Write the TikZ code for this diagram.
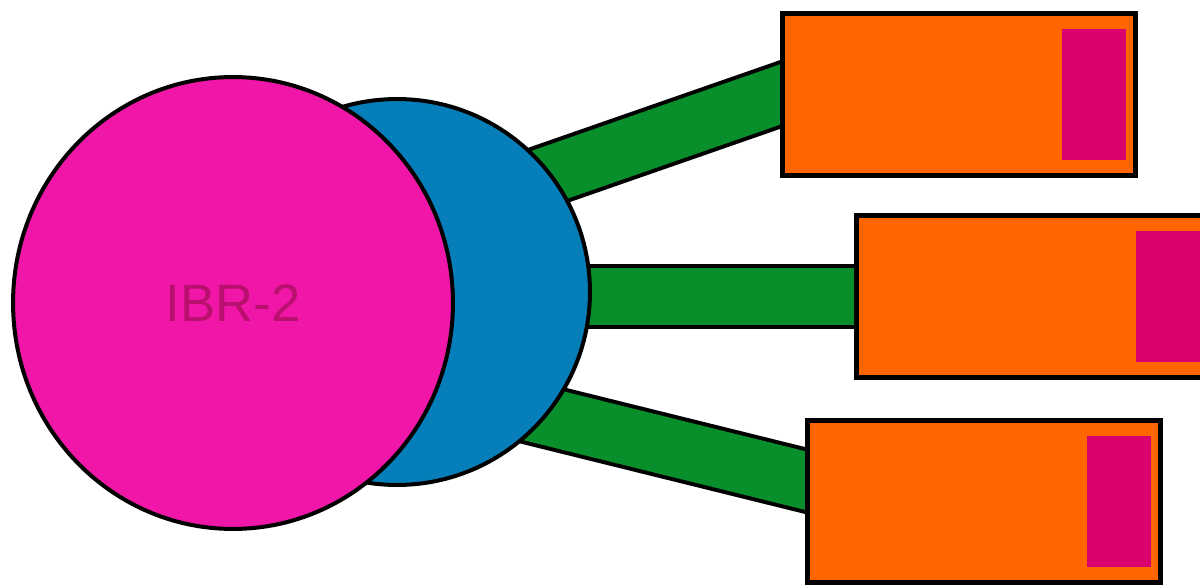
\documentclass[tikz,border=0pt]{standalone}
\usepackage{fontspec}
\setmainfont{Liberation Sans}
\usetikzlibrary{shapes.geometric, positioning, backgrounds}
\definecolor{corepink}{RGB}{240,22,168}
\definecolor{labelpink}{RGB}{185,16,110}
\definecolor{modblue}{RGB}{6,126,186}
\definecolor{beamgreen}{RGB}{8,142,42}
\definecolor{boxorange}{RGB}{255,102,0}
\definecolor{slotred}{RGB}{218,0,110}
\tikzstyle{core} = [ellipse, minimum width=8.8cm, minimum height=9.04cm, draw=black, line width=0.08cm, fill=corepink, text=labelpink, font=\fontsize{30}{32}\selectfont]
\tikzstyle{moderator} = [circle, minimum size=7.72cm, draw=black, line width=0.08cm, fill=modblue]
\tikzstyle{station} = [rectangle, minimum width=7.06cm, minimum height=3.24cm, draw=black, line width=0.1cm, fill=boxorange]
\tikzstyle{detector} = [rectangle, minimum width=1.28cm, minimum height=2.64cm, inner sep=0pt, fill=slotred]
\tikzstyle{beam} = [line width=0.08cm, draw=black, double=beamgreen, double distance=1.14cm, shorten >=-0.6cm]

\begin{document}
\begin{tikzpicture}[x=0.02cm, y=-0.02cm]
    \useasboundingbox (0,0) rectangle (1200,588);
    \clip (0,0) rectangle (1200,588);
    % Nodes
    \node (mod) [moderator] at (397,292) {};
    \node (core) [core] at (233,303) {IBR-2};
    \node (st1) [station] at (959,94.5) {};
    \node (st2) [station] at (1033,296.5) {};
    \node (st3) [station] at (984,501.5) {};
    \node (det1) [detector, left=0.24cm of st1.east] {};
    \node (det2) [detector, left=0.24cm of st2.east] {};
    \node (det3) [detector, left=0.24cm of st3.east] {};
    \coordinate (b1) at (500,192);
    \coordinate (b2) at (500,296.5);
    \coordinate (b3) at (500,405);

    % Beams
    \begin{scope}[on background layer]
    \draw [beam] (b1) -- (st1.west);
    \draw [beam] (b2) -- (st2.west);
    \draw [beam] (b3) -- ([yshift=0.42cm]st3.west);
    \end{scope}

\end{tikzpicture}
\end{document}
